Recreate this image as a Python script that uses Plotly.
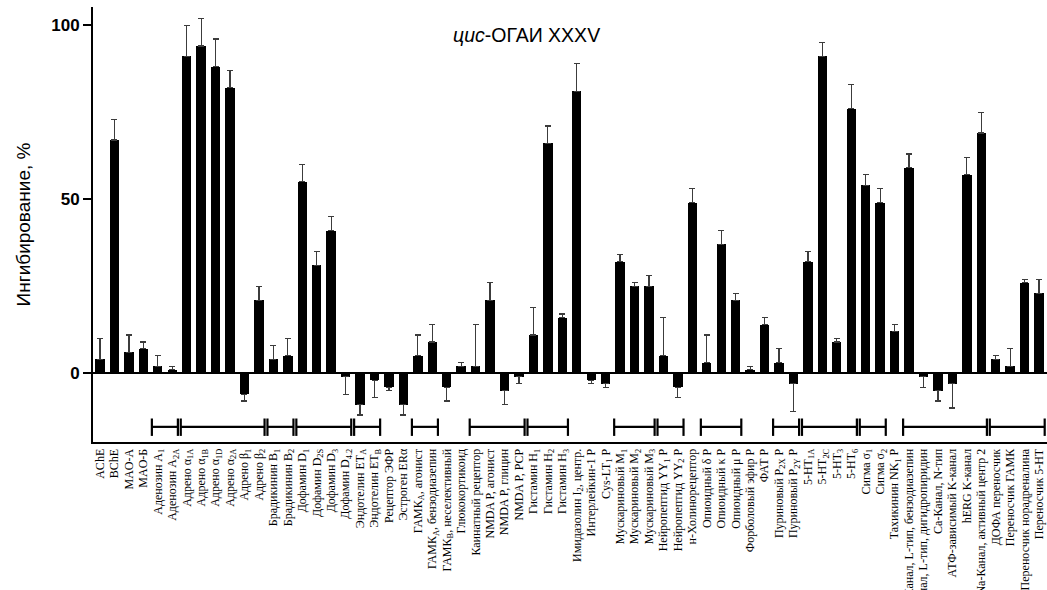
import plotly.graph_objects as go

# Target names (x tick labels)
labels = [
    "AChE", "BChE", "MAO-A", "MAO-Б",
    "Аденозин A<sub>1</sub>", "Аденозин A<sub>2A</sub>",
    "Адрено α<sub>1A</sub>", "Адрено α<sub>1B</sub>", "Адрено α<sub>1D</sub>",
    "Адрено α<sub>2A</sub>", "Адрено β<sub>1</sub>", "Адрено β<sub>2</sub>",
    "Брадикинин B<sub>1</sub>", "Брадикинин B<sub>2</sub>",
    "Дофамин D<sub>1</sub>", "Дофамин D<sub>2S</sub>", "Дофамин D<sub>3</sub>",
    "Дофамин D<sub>4.2</sub>",
    "Эндотелин ET<sub>A</sub>", "Эндотелин ET<sub>B</sub>",
    "Рецептор ЭФР", "Эстроген ERα",
    "ГАМК<sub>A</sub>, агонист", "ГАМК<sub>A</sub>, бензодиазепин",
    "ГАМК<sub>B</sub>, неселективный",
    "Глюкокортикоид", "Каинатный рецептор",
    "NMDA P, агонист", "NMDA P, глицин", "NMDA P, PCP",
    "Гистамин H<sub>1</sub>", "Гистамин H<sub>2</sub>", "Гистамин H<sub>3</sub>",
    "Имидазолин I<sub>2</sub>, центр.", "Интерлейкин-1 P", "Cys-LT<sub>1</sub> P",
    "Мускариновый M<sub>1</sub>", "Мускариновый M<sub>2</sub>", "Мускариновый M<sub>3</sub>",
    "Нейропептид YY<sub>1</sub> P", "Нейропептид YY<sub>2</sub> P",
    "н-Холинорецептор",
    "Опиоидный δ P", "Опиоидный κ P", "Опиоидный μ P",
    "Форболовый эфир P", "ФАТ P",
    "Пуриновый P<sub>2X</sub> P", "Пуриновый P<sub>2Y</sub> P",
    "5-HT<sub>1A</sub>", "5-HT<sub>2C</sub>", "5-HT<sub>3</sub>", "5-HT<sub>6</sub>",
    "Сигма σ<sub>1</sub>", "Сигма σ<sub>2</sub>",
    "Тахикинин NK<sub>1</sub> P",
    "Ca-Канал, L-тип, бензодиазепин", "Ca-Канал, L-тип, дигидропиридин",
    "Ca-Канал, N-тип", "АТФ-зависимый K-канал", "hERG K-канал",
    "Na-Канал, активный центр 2",
    "ДОФА переносчик", "Переносчик ГАМК", "Переносчик норадреналина",
    "Переносчик 5-HT",
]

# Mean inhibition, %
inhibition = [
    4, 67, 6, 7,
    2, 1,
    91, 94, 88, 82, -6, 21,
    4, 5,
    55, 31, 41, -1,
    -9, -2,
    -4, -9,
    5, 9, -4,
    2, 2,
    21, -5, -1,
    11, 66, 16,
    81, -2, -3,
    32, 25, 25,
    5, -4,
    49,
    3, 37, 21,
    1, 14,
    3, -3,
    32, 91, 9, 76,
    54, 49,
    12,
    59, -1, -5, -3, 57, 69,
    4, 2, 26, 23,
]

# Standard deviation, %
spread = [
    6, 6, 5, 2,
    3, 1,
    9, 8, 8, 5, 2, 4,
    4, 5,
    5, 4, 4, 5,
    3, 5,
    1, 3,
    6, 5, 4,
    1, 12,
    5, 4, 2,
    8, 5, 1,
    8, 1, 1,
    2, 1, 3,
    11, 3,
    4,
    8, 4, 2,
    1, 2,
    4, 8,
    3, 4, 1, 7,
    3, 4,
    2,
    4, 3, 3, 7, 5, 6,
    1, 5, 1, 4,
]

# Receptor families marked with brackets: (first index, last index)
families = [
    (4, 5), (6, 11), (12, 13), (14, 17), (18, 19), (22, 23), (26, 29),
    (30, 32), (36, 38), (39, 40), (42, 44), (47, 48), (49, 52), (53, 54),
    (56, 61), (62, 65),
]

x_idx = list(range(len(labels)))
up = [s if v >= 0 else 0 for v, s in zip(inhibition, spread)]
down = [s if v < 0 else 0 for v, s in zip(inhibition, spread)]

fig = go.Figure()
fig.add_trace(go.Bar(
    x=x_idx, y=inhibition, width=0.65,
    marker=dict(color="black", line=dict(width=0)),
    error_y=dict(type="data", symmetric=False, array=up, arrayminus=down,
                 color="#3c3c3c", thickness=1.2, width=3),
    showlegend=False, hoverinfo="skip",
))

# Family brackets below the bars
br_y, br_lo, br_hi = -15.4, -13.0, -18.0
bx, by = [], []
for a, b in families:
    x0, x1 = a - 0.41, b + 0.39
    bx += [x0, x1, None, x0, x0, None, x1, x1, None]
    by += [br_y, br_y, None, br_lo, br_hi, None, br_lo, br_hi, None]
fig.add_trace(go.Scatter(
    x=bx, y=by, mode="lines", line=dict(color="black", width=2.2),
    showlegend=False, hoverinfo="skip",
))

fig.add_annotation(
    text="<i>цис</i>-ОГАИ XXXV", xref="paper", yref="paper",
    x=0.4545, y=0.936, xanchor="center", yanchor="middle", showarrow=False,
    font=dict(family="Liberation Sans, Arial", size=19.5, color="black"),
)

fig.update_layout(
    width=1047, height=590,
    margin=dict(l=93, r=0, t=7, b=148),
    paper_bgcolor="white", plot_bgcolor="white",
    bargap=0,
    xaxis=dict(
        range=[-0.485, 65.55], tickvals=x_idx, ticktext=labels,
        tickangle=-90, ticks="", showgrid=False, zeroline=False,
        showline=True, linecolor="black", linewidth=2, automargin=False,
        tickfont=dict(family="Liberation Serif, Times New Roman", size=12,
                      color="black"),
    ),
    yaxis=dict(
        range=[-19.75, 105.2], tickvals=[0, 50, 100], automargin=False,
        ticks="outside", ticklen=8, tickwidth=2, tickcolor="black",
        showgrid=False, zeroline=True, zerolinecolor="black", zerolinewidth=2,
        showline=True, linecolor="black", linewidth=2,
        tickfont=dict(family="Liberation Sans, Arial", size=17, color="black",
                      weight="bold"),
        title=dict(text="Ингибирование, %", standoff=16,
                   font=dict(family="Liberation Sans, Arial", size=19,
                             color="black")),
    ),
)

fig.write_html("out.html")
